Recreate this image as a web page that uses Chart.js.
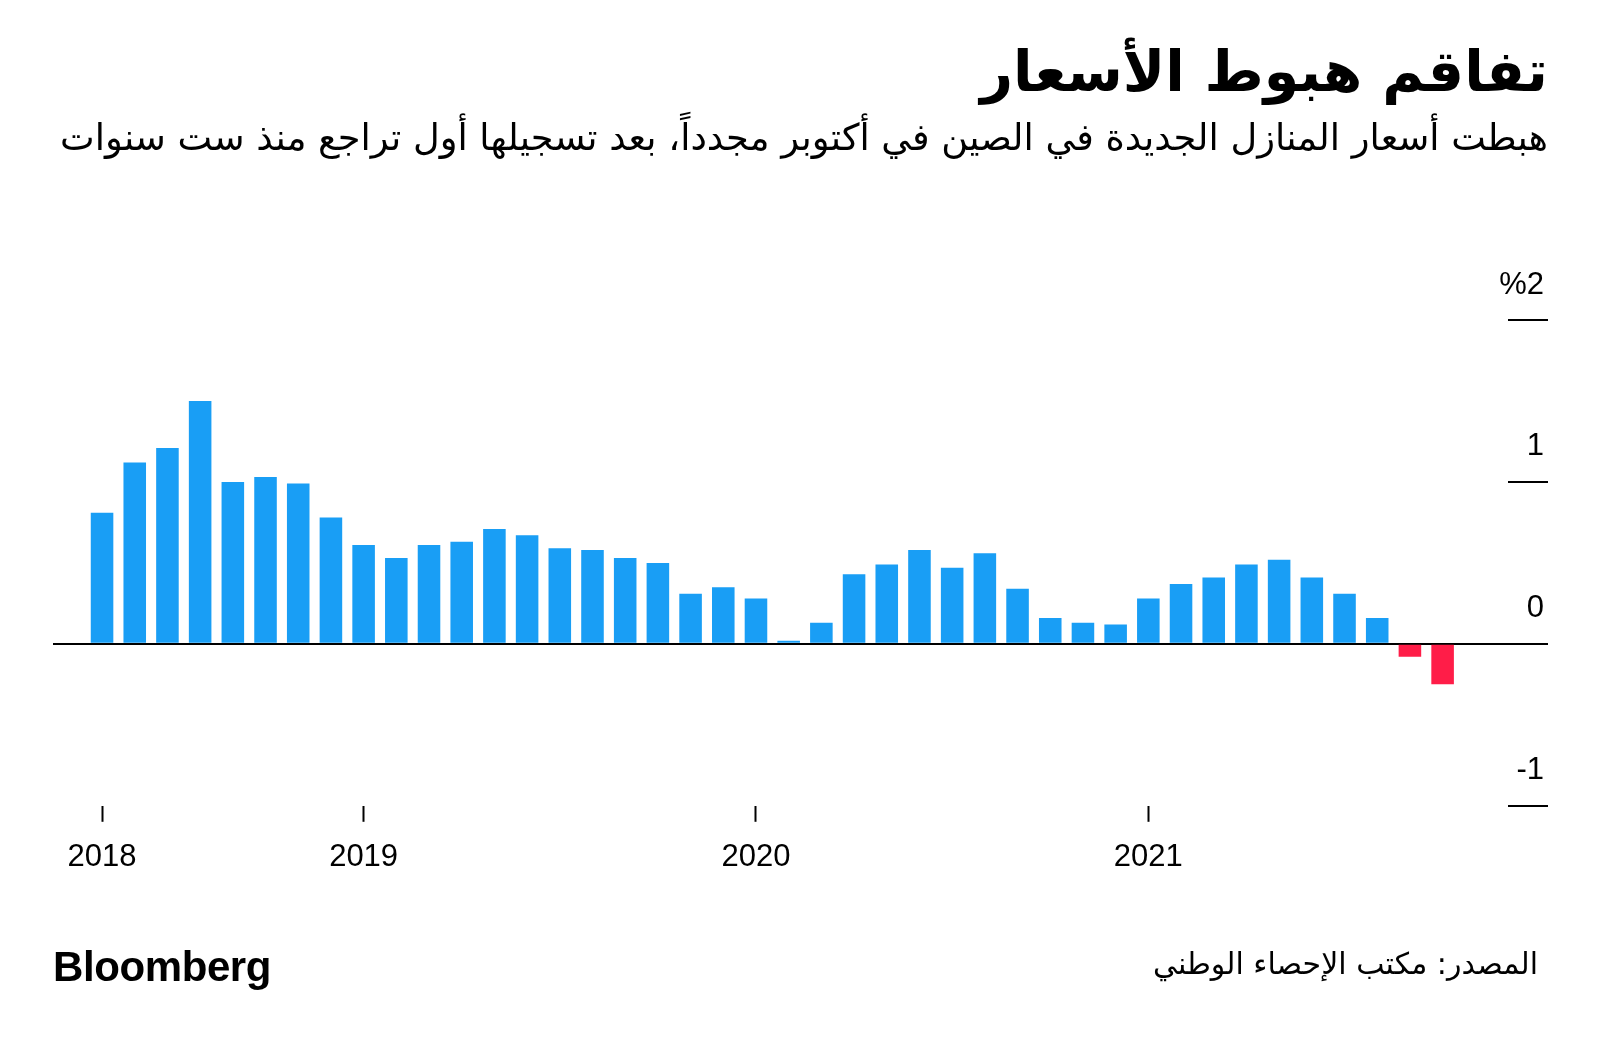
<!DOCTYPE html>
<html lang="ar">
<head>
<meta charset="utf-8">
<title>تفاقم هبوط الأسعار</title>
<script src="https://cdn.jsdelivr.net/npm/chart.js@4.4.0/dist/chart.umd.min.js"></script>
<style>
  html, body { margin: 0; padding: 0; background: #fff; }
  #wrap { position: relative; width: 1600px; height: 1047px; overflow: hidden; }
  #chart { position: absolute; left: 0; top: 0; }
  .txt { position: absolute; color: #000; white-space: nowrap; }
  #title { right: 52px; top: 35px; font: bold 57px/72px "DejaVu Sans"; direction: rtl; }
  #subtitle { right: 52px; top: 114px; font: 36.8px/48px "DejaVu Sans"; direction: rtl; }
  #logo { left: 53px; top: 942px; font: bold 42px/50px "Liberation Sans"; letter-spacing: -0.4px; }
  #source { right: 62px; top: 944px; font: 30px/40px "DejaVu Sans"; direction: rtl; }
</style>
</head>
<body>
<div id="wrap">
  <canvas id="chart" width="1600" height="1047"></canvas>
  <div class="txt" id="title">تفاقم هبوط الأسعار</div>
  <div class="txt" id="subtitle">هبطت أسعار المنازل الجديدة في الصين في أكتوبر مجدداً، بعد تسجيلها أول تراجع منذ ست سنوات</div>
  <div class="txt" id="logo">Bloomberg</div>
  <div class="txt" id="source">المصدر: مكتب الإحصاء الوطني</div>
</div>
<script>
// monthly change in new home prices, May 2018 - Oct 2021 (%)
const months = [
    "2018-05", "2018-06", "2018-07", "2018-08", "2018-09", "2018-10", "2018-11", "2018-12",
    "2019-01", "2019-02", "2019-03", "2019-04", "2019-05", "2019-06", "2019-07", "2019-08", "2019-09", "2019-10", "2019-11", "2019-12",
    "2020-01", "2020-02", "2020-03", "2020-04", "2020-05", "2020-06", "2020-07", "2020-08", "2020-09", "2020-10", "2020-11", "2020-12",
    "2021-01", "2021-02", "2021-03", "2021-04", "2021-05", "2021-06", "2021-07", "2021-08", "2021-09", "2021-10"
];
const priceChange = [
    0.81, 1.12, 1.21, 1.50, 1.00, 1.03, 0.99, 0.78,
    0.61, 0.53, 0.61, 0.63, 0.71, 0.67, 0.59, 0.58, 0.53, 0.50, 0.31, 0.35,
    0.28, 0.02, 0.13, 0.43, 0.49, 0.58, 0.47, 0.56, 0.34, 0.16, 0.13, 0.12,
    0.28, 0.37, 0.41, 0.49, 0.52, 0.41, 0.31, 0.16, -0.08, -0.25
];
const xTickLabels = ["2018", "2019", "2020", "2021"];
const yTickValues = [-1, 0, 1, 2];
const yTickLabels = ["-1", "0", "1", "%2"];

const BLUE = "#199ef5";
const RED = "#ff1d48";

// each year tick sits on the first month of that year in the data
const xTickIdx = xTickLabels.map(y => months.findIndex(m => m.startsWith(y)));

window.onload = createChart;

function createChart() {
    const context = document.getElementById("chart").getContext("2d");

    new Chart(context, {
        type: "bar",
        data: {
            labels: months,
            datasets: [{
                data: priceChange.map((v, i) => ({ x: i, y: v })),
                backgroundColor: ctx => (ctx.raw && ctx.raw.y < 0) ? RED : BLUE,
                borderWidth: 0,
                categoryPercentage: 1,
                barPercentage: 0.69
            }]
        },
        options: {
            responsive: false,
            animation: false,
            layout: { padding: { left: 53, right: 52, top: 320, bottom: 154 } },
            plugins: {
                legend: { display: false },
                tooltip: { enabled: false }
            },
            scales: {
                x: {
                    type: "linear",
                    min: -1.5,
                    max: 43,
                    offset: false,
                    border: { display: false },
                    grid: {
                        offset: false,
                        drawOnChartArea: false,
                        drawTicks: true,
                        tickLength: 16,
                        tickColor: "#000",
                        tickWidth: 2
                    },
                    afterBuildTicks: scale => {
                        scale.ticks = xTickIdx.map(v => ({ value: v }));
                    },
                    ticks: {
                        autoSkip: false,
                        maxRotation: 0,
                        padding: 17,
                        color: "#000",
                        font: { family: "Liberation Sans", size: 31 },
                        callback: (value, index) => xTickLabels[index]
                    }
                },
                y: {
                    position: "right",
                    min: -1,
                    max: 2,
                    border: { display: false },
                    grid: {
                        color: ctx => ctx.tick && ctx.tick.value === 0 ? "#000" : "rgba(0,0,0,0)",
                        lineWidth: 2,
                        drawTicks: true,
                        tickLength: 40,
                        tickColor: "#000",
                        tickWidth: 2
                    },
                    // labels sit inside, above each tick; keep the axis as wide as the tick marks
                    afterFit: scale => { scale.width = 40; },
                    ticks: {
                        stepSize: 1,
                        mirror: true,
                        padding: 36,
                        labelOffset: -35,
                        color: "#000",
                        font: { family: "Liberation Sans", size: 31 },
                        callback: value => yTickLabels[yTickValues.indexOf(value)]
                    }
                }
            }
        }
    });
}
</script>
</body>
</html>
